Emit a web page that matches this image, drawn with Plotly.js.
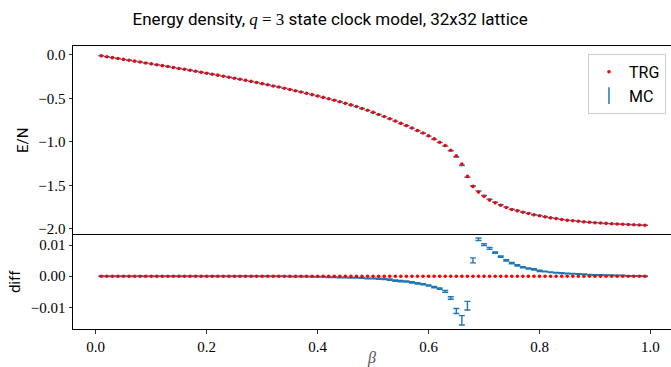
<!DOCTYPE html>
<html>
<head>
<meta charset="utf-8">
<script src="https://cdn.plot.ly/plotly-3.0.1.min.js"></script>
<style>
  html, body { margin: 0; padding: 0; background: #fff; }
  #chart { width: 671px; height: 367px; }
</style>
</head>
<body>
<div id="chart"></div>
<script>
// Inverse temperature grid
const beta = [
  0.01, 0.02, 0.03, 0.04, 0.05, 0.06, 0.07, 0.08, 0.09, 0.10,
  0.11, 0.12, 0.13, 0.14, 0.15, 0.16, 0.17, 0.18, 0.19, 0.20,
  0.21, 0.22, 0.23, 0.24, 0.25, 0.26, 0.27, 0.28, 0.29, 0.30,
  0.31, 0.32, 0.33, 0.34, 0.35, 0.36, 0.37, 0.38, 0.39, 0.40,
  0.41, 0.42, 0.43, 0.44, 0.45, 0.46, 0.47, 0.48, 0.49, 0.50,
  0.51, 0.52, 0.53, 0.54, 0.55, 0.56, 0.57, 0.58, 0.59, 0.60,
  0.61, 0.62, 0.63, 0.64, 0.65, 0.66, 0.67, 0.68, 0.69, 0.70,
  0.71, 0.72, 0.73, 0.74, 0.75, 0.76, 0.77, 0.78, 0.79, 0.80,
  0.81, 0.82, 0.83, 0.84, 0.85, 0.86, 0.87, 0.88, 0.89, 0.90,
  0.91, 0.92, 0.93, 0.94, 0.95, 0.96, 0.97, 0.98, 0.99
];

// TRG energy per site
const trgEnergy = [
  -0.010, -0.020, -0.031, -0.041, -0.051, -0.061, -0.071, -0.081, -0.092, -0.102,
  -0.112, -0.123, -0.133, -0.144, -0.155, -0.165, -0.176, -0.187, -0.198, -0.210,
  -0.221, -0.232, -0.244, -0.256, -0.268, -0.280, -0.292, -0.304, -0.317, -0.330,
  -0.343, -0.356, -0.369, -0.383, -0.397, -0.411, -0.426, -0.441, -0.456, -0.472,
  -0.488, -0.504, -0.521, -0.538, -0.556, -0.574, -0.593, -0.615, -0.636, -0.660,
  -0.684, -0.708, -0.733, -0.759, -0.786, -0.812, -0.839, -0.868, -0.897, -0.930,
  -0.965, -1.003, -1.041, -1.095, -1.160, -1.254, -1.396, -1.511, -1.576, -1.625,
  -1.668, -1.700, -1.728, -1.754, -1.777, -1.792, -1.808, -1.822, -1.838, -1.848,
  -1.861, -1.872, -1.881, -1.891, -1.899, -1.905, -1.911, -1.918, -1.923, -1.928,
  -1.932, -1.936, -1.940, -1.943, -1.946, -1.949, -1.952, -1.955, -1.957
];

// Monte Carlo minus TRG
const mcDiff = [
  0.0000, 0.0000, 0.0000, 0.0000, 0.0000, 0.0000, 0.0000, 0.0000, 0.0000, 0.0000,
  0.0000, 0.0000, 0.0000, 0.0000, 0.0000, 0.0000, 0.0000, 0.0000, 0.0000, 0.0000,
  0.0000, 0.0000, 0.0000, 0.0000, 0.0000, 0.0000, 0.0000, 0.0000, 0.0000, 0.0000,
  0.0000, 0.0000, 0.0000, 0.0000, -0.0001, -0.0001, -0.0001, -0.0001, -0.0002, -0.0002,
  -0.0002, -0.0003, -0.0003, -0.0004, -0.0004, -0.0005, -0.0005, -0.0006, -0.0007, -0.0007,
  -0.0008, -0.0009, -0.0011, -0.0014, -0.0016, -0.0017, -0.0020, -0.0023, -0.0026, -0.0030,
  -0.0035, -0.0040, -0.0049, -0.0070, -0.0112, -0.0142, -0.0095, 0.0051, 0.0119, 0.0102,
  0.0090, 0.0076, 0.0063, 0.0051, 0.0042, 0.0035, 0.0029, 0.0025, 0.0022, 0.0017,
  0.0015, 0.0013, 0.0011, 0.0010, 0.0009, 0.0008, 0.0007, 0.0006, 0.0005, 0.0004,
  0.0004, 0.0003, 0.0003, 0.0002, 0.0002, 0.0001, 0.0001, 0.0001, 0.0000
];

// Monte Carlo statistical error
const mcErr = [
  0.0001, 0.0001, 0.0001, 0.0001, 0.0001, 0.0001, 0.0001, 0.0001, 0.0001, 0.0001,
  0.0001, 0.0001, 0.0001, 0.0001, 0.0001, 0.0001, 0.0001, 0.0001, 0.0001, 0.0001,
  0.0001, 0.0001, 0.0001, 0.0001, 0.0001, 0.0001, 0.0001, 0.0001, 0.0001, 0.0001,
  0.0001, 0.0001, 0.0001, 0.0001, 0.0001, 0.0001, 0.0001, 0.0001, 0.0001, 0.0001,
  0.0001, 0.0001, 0.0001, 0.0001, 0.0001, 0.0001, 0.0001, 0.0001, 0.0001, 0.0001,
  0.0002, 0.0002, 0.0002, 0.0002, 0.0002, 0.0002, 0.0002, 0.0002, 0.0002, 0.0002,
  0.0002, 0.0002, 0.0003, 0.0004, 0.0008, 0.0015, 0.0014, 0.0008, 0.0004, 0.0003,
  0.0003, 0.0002, 0.0002, 0.0002, 0.0002, 0.0002, 0.0002, 0.0002, 0.0002, 0.0002,
  0.0001, 0.0001, 0.0001, 0.0001, 0.0001, 0.0001, 0.0001, 0.0001, 0.0001, 0.0001,
  0.0001, 0.0001, 0.0001, 0.0001, 0.0001, 0.0001, 0.0001, 0.0001, 0.0001
];

const trgZero = trgEnergy.map(() => 0);
const mcEnergy = trgEnergy.map((e, i) => e + mcDiff[i]);

const BLUE = '#1f77b4';
const RED = '#ff0000';
const SANS = 'Roboto, "Liberation Sans", sans-serif';
const SERIF = '"Liberation Serif", "DejaVu Serif", serif';

const errStyle = (arr) => ({
  type: 'data', array: arr, visible: true,
  color: BLUE, thickness: 1.4, width: 3
});

const traces = [
  // upper panel: MC with error bars
  {
    x: beta, y: mcEnergy, xaxis: 'x', yaxis: 'y',
    type: 'scatter', mode: 'markers', showlegend: false,
    marker: { size: 2, color: 'rgba(0,0,0,0)' },
    error_y: errStyle(mcErr)
  },
  // upper panel: TRG
  {
    x: beta, y: trgEnergy, xaxis: 'x', yaxis: 'y',
    type: 'scatter', mode: 'markers', name: 'TRG', legendrank: 1,
    marker: { size: 3.6, color: RED }
  },
  // lower panel: MC difference
  {
    x: beta, y: mcDiff, xaxis: 'x2', yaxis: 'y2',
    type: 'scatter', mode: 'markers', showlegend: false,
    marker: { size: 2, color: 'rgba(0,0,0,0)' },
    error_y: errStyle(mcErr)
  },
  // lower panel: TRG reference line
  {
    x: beta, y: trgZero, xaxis: 'x2', yaxis: 'y2',
    type: 'scatter', mode: 'markers', showlegend: false,
    marker: { size: 3.6, color: RED }
  },
  // legend key for the MC error bars
  {
    x: [null], y: [null], xaxis: 'x', yaxis: 'y',
    type: 'scatter', mode: 'markers', name: 'MC', legendrank: 2,
    marker: { symbol: 'line-ns-open', size: 12, color: BLUE, line: { color: BLUE, width: 1.5 } }
  }
];

const xr = [-0.041, 1.037];
const axisLine = { showline: true, linecolor: '#000', linewidth: 1, showgrid: false, zeroline: false };
const tickFont = { family: SERIF, size: 15, color: '#000' };

const layout = {
  width: 671, height: 367,
  margin: { l: 73, r: 0, t: 46, b: 38 },
  paper_bgcolor: '#fff', plot_bgcolor: '#fff',
  showlegend: true,
  title: {
    text: 'Energy density, <span style="font-family:\'Liberation Serif\';font-style:italic">q</span>' +
          '<span style="font-family:\'Liberation Serif\'"> = 3</span> state clock model, 32x32 lattice',
    font: { family: SANS, size: 17, color: '#000' },
    x: 0.492, xref: 'container', xanchor: 'center',
    y: 0.948, yref: 'container', yanchor: 'middle'
  },
  legend: {
    x: 0.9916, xanchor: 'right', y: 0.972, yanchor: 'top',
    bgcolor: 'rgba(255,255,255,0.8)', bordercolor: '#cccccc', borderwidth: 1,
    font: { family: SANS, size: 16, color: '#000' }
  },
  // upper panel: only the top frame edge; the shared edge comes from the lower panel
  xaxis: Object.assign({}, axisLine, {
    domain: [0, 1], anchor: 'y', range: xr, side: 'top', mirror: false,
    showticklabels: false, ticks: '', matches: 'x2'
  }),
  yaxis: Object.assign({}, axisLine, {
    domain: [0.3335, 1], anchor: 'x', range: [-2.065, 0.103],
    tickvals: [-2, -1.5, -1, -0.5, 0], tickformat: '.1f',
    ticks: 'outside', ticklen: 3.5, tickwidth: 0.8, tickcolor: '#000',
    tickfont: tickFont,
    title: { text: 'E/N', font: { family: SANS, size: 15, color: '#000' }, standoff: 6 }
  }),
  xaxis2: Object.assign({}, axisLine, {
    domain: [0, 1], anchor: 'y2', range: xr, mirror: true,
    tickvals: [0, 0.2, 0.4, 0.6, 0.8, 1.0], tickformat: '.1f',
    ticks: 'outside', ticklen: 3.5, tickwidth: 0.8, tickcolor: '#000',
    tickfont: tickFont,
    title: { text: '<i>β</i>', font: { family: SERIF, size: 16, color: '#555' }, standoff: 2 }
  }),
  yaxis2: Object.assign({}, axisLine, {
    domain: [0, 0.3335], anchor: 'x2', range: [-0.0170, 0.0134],
    tickvals: [-0.01, 0, 0.01], tickformat: '.2f',
    ticks: 'outside', ticklen: 3.5, tickwidth: 0.8, tickcolor: '#000',
    tickfont: tickFont,
    title: { text: 'diff', font: { family: SANS, size: 15, color: '#000' }, standoff: 6 }
  })
};

Plotly.newPlot('chart', traces, layout, { staticPlot: true, displayModeBar: false });
</script>
</body>
</html>
